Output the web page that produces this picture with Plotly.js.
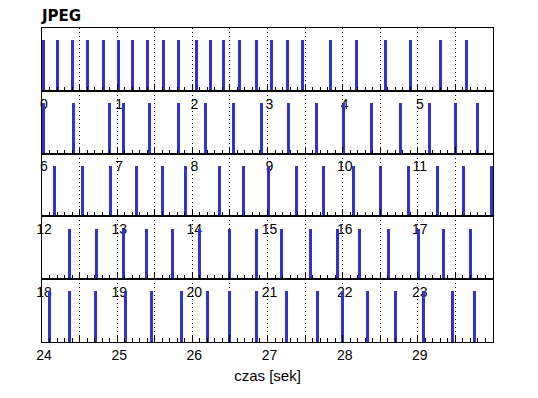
<!DOCTYPE html>
<html>
<head>
<meta charset="utf-8">
<script src="https://cdn.plot.ly/plotly-3.0.1.min.js"></script>
<style>html,body{margin:0;padding:0;background:#fff}#chart{width:538px;height:398px}</style>
</head>
<body>
<div id="chart"></div>
<script>
// Event times (seconds) for each 6-second row
const row1 = [0.02,0.20,0.40,0.60,0.82,1.02,1.20,1.41,1.62,1.81,2.05,2.24,2.42,2.63,2.85,3.05,3.26,3.46,3.84,4.19,4.57,4.90,5.30,5.65];
const row2 = [6.02,6.42,6.90,7.09,7.43,7.81,8.18,8.55,8.92,9.28,9.65,10.01,10.39,10.77,11.15,11.50,11.79];
const row3 = [12.16,12.54,12.91,13.26,13.60,13.91,14.36,14.68,15.01,15.38,15.75,16.15,16.50,16.87,17.26,17.61,17.98];
const row4 = [18.36,18.73,19.09,19.39,19.73,20.10,20.49,20.85,21.19,21.57,21.93,22.23,22.61,23.01,23.34,23.70];
const row5 = [24.10,24.36,24.71,25.11,25.46,25.86,26.20,26.50,26.86,27.25,27.66,28.00,28.33,28.70,29.08,29.46,29.76];
const rowStart = [0, 6, 12, 18, 24];
const tickLabels = [
  ['0','1','2','3','4','5'],
  ['6','7','8','9','10','11'],
  ['12','13','14','15','16','17'],
  ['18','19','20','21','22','23'],
  ['24','25','26','27','28','29']
];
const eventHeight = 1;
const title = 'JPEG';
const xTitle = 'czas [sek]';

const rows = [row1, row2, row3, row4, row5];
const color = '#3333cc';
const font = {family: 'Liberation Sans, Arial, sans-serif', size: 14, color: '#000'};

const traces = [];
const layout = {
  width: 538, height: 398,
  margin: {l: 42, r: 45, t: 28, b: 56},
  paper_bgcolor: '#fff', plot_bgcolor: 'rgba(0,0,0,0)',
  showlegend: false,
  font: font,
  bargap: 0,
  title: {text: '<b>' + title + '</b>', x: 42/538, xanchor: 'left', xref: 'container',
          y: 1 - 16/398, yanchor: 'middle', font: {family: 'DejaVu Sans, sans-serif', size: 15, color: '#000'}}
};

rows.forEach((r, i) => {
  const n = i + 1;
  const xa = n === 1 ? 'x' : 'x' + n;
  const ya = n === 1 ? 'y' : 'y' + n;
  traces.push({
    type: 'bar', x: r, y: r.map(() => eventHeight), width: 0.04,
    marker: {color: color, line: {width: 0}},
    xaxis: xa, yaxis: ya, hoverinfo: 'x'
  });
  const s = rowStart[i];
  const tv = [], tt = [];
  for (let k = 0; k < 12; k++) {
    tv.push(s + k * 0.5);
    tt.push(k % 2 === 0 ? tickLabels[i][k / 2] : '');
  }
  const xKey = n === 1 ? 'xaxis' : 'xaxis' + n;
  const yKey = n === 1 ? 'yaxis' : 'yaxis' + n;
  layout[xKey] = {
    anchor: ya, domain: [0, 1], range: [s, s + 6],
    tickmode: 'array', tickvals: tv, ticktext: tt,
    ticks: 'inside', ticklen: 7, tickcolor: '#000', tickwidth: 1,
    showgrid: true, griddash: '1px,3px', gridcolor: '#000', gridwidth: 1,
    minor: {tickmode: 'linear', tick0: s, dtick: 0.1, ticks: 'inside', ticklen: 4, tickcolor: '#000', showgrid: false},
    showline: true, mirror: true, linecolor: '#000', linewidth: 1,
    zeroline: false, tickfont: font, ticklabelstandoff: 0, ticklabelshift: 2
  };
  if (n === 5) {
    layout[xKey].title = {text: xTitle, font: {family: font.family, size: 15, color: '#000'}, standoff: 8};
  }
  layout[yKey] = {
    anchor: xa, domain: [1 - (i + 1) / 5, 1 - i / 5], range: [0, 1.24],
    showticklabels: false, ticks: '', showgrid: false, zeroline: false,
    showline: true, mirror: true, linecolor: '#000', linewidth: 1
  };
});

Plotly.newPlot('chart', traces, layout, {displayModeBar: false, staticPlot: true});
</script>
</body>
</html>
